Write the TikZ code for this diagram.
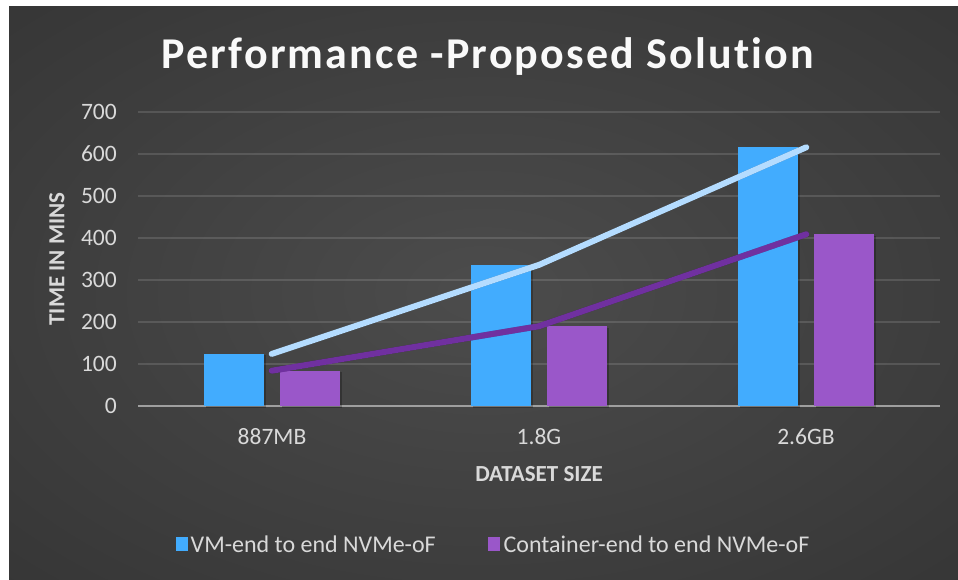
\documentclass[tikz,border=0pt]{standalone}
\usepackage{fontspec}
\setmainfont{Carlito}
\newfontfamily\titlefont[LetterSpace=5, Ligatures=NoCommon]{Carlito}
\usetikzlibrary{positioning}

\definecolor{vmblue}{HTML}{42ACFE}
\definecolor{ctpurple}{HTML}{9A57C9}
\definecolor{vmline}{HTML}{B4DCFF}
\definecolor{ctline}{HTML}{7030A0}
\definecolor{txtgray}{HTML}{D9D9D9}
\definecolor{bgin}{HTML}{4C4C4C}
\definecolor{bgout}{HTML}{202020}

\pgfdeclareradialshading{chartbg}{\pgfpoint{0bp}{0bp}}{color(0bp)=(bgin); color(72bp)=(bgout)}

\tikzset{
  titletext/.style={anchor=base, inner sep=0pt, font=\titlefont\bfseries\fontsize{44}{44}\selectfont},
  ticklabel/.style={anchor=east, inner sep=0pt, text=txtgray, font=\fontsize{23.5}{23.5}\selectfont},
  catlabel/.style={inner sep=0pt, text=txtgray, font=\fontsize{23.5}{23.5}\selectfont},
  axistitle/.style={inner sep=0pt, text=txtgray, font=\bfseries\fontsize{23}{23}\selectfont},
  legendkey/.style={inner sep=0pt, minimum width=12.5pt, minimum height=13.5pt},
  legendtext/.style={inner sep=0pt, text=txtgray, font=\fontsize{24}{24}\selectfont},
  gridline/.style={white, opacity=0.13, line width=1.5pt},
  axisline/.style={gray!75, line width=2pt},
  barshadow/.style={black, opacity=0.25, xshift=2pt, yshift=-1.5pt},
  trend/.style={line width=6pt, line cap=round, line join=round},
}

\begin{document}
\begin{tikzpicture}[x=1pt, y=-1pt]
  \useasboundingbox (0,0) rectangle (958,579);
  % backdrop
  \fill[white] (0,0) rectangle (958,579);
  \shade[shading=chartbg] (9,6) rectangle (958,579);

  % title
  \node[titletext, text=white!95!gray] (title) at (488,68) {Performance -Proposed Solution};

  % value axis
  \foreach \v in {0,100,...,700}
    \node[ticklabel] (tick\v) at (117,{406-0.42*\v}) {\v};
  \node[axistitle, rotate=90] (ytitle) at (57,259) {TIME IN MINS};

  % plot area, one unit up = one minute
  \begin{scope}[shift={(138,406)}, y=0.42pt]
    \foreach \v in {100,200,...,700}
      \draw[gridline] (0,\v) -- (802,\v);
    \draw[axisline] (0,0) -- (802,0);

    % bars
    \foreach \c/\vm/\ct [count=\i] in {133.7/124/84, 401/336/190, 668.3/616/409} {
      \fill[barshadow] (\c-68,0) rectangle (\c-8,\vm);
      \fill[barshadow] (\c+8,0) rectangle (\c+68,\ct);
      \fill[vmblue] (\c-68,0) rectangle (\c-8,\vm);
      \fill[ctpurple] (\c+8,0) rectangle (\c+68,\ct);
      \coordinate (vm\i) at (\c,\vm);
      \coordinate (ct\i) at (\c,\ct);
    }

    % trend lines
    \draw[trend, black, opacity=0.3, xshift=1.5pt, yshift=-2pt] (vm1) -- (vm2) -- (vm3);
    \draw[trend, black, opacity=0.3, xshift=1.5pt, yshift=-2pt] (ct1) -- (ct2) -- (ct3);
    \draw[trend, vmline] (vm1) -- (vm2) -- (vm3);
    \draw[trend, ctline] (ct1) -- (ct2) -- (ct3);
  \end{scope}

  % category axis
  \node[catlabel] (cat1) at (272,437) {887MB};
  \node[catlabel] (cat2) at (539,437) {1.8G};
  \node[catlabel] (cat3) at (806,437) {2.6GB};
  \node[axistitle] (xtitle) at (539,474) {DATASET SIZE};

  % legend
  \node[legendkey, fill=vmblue] (keyvm) at (182,544) {};
  \node[legendtext, right=2pt of keyvm] (textvm) {VM-end to end NVMe-oF};
  \node[legendkey, fill=ctpurple] (keyct) at (494,544) {};
  \node[legendtext, right=3pt of keyct] (textct) {Container-end to end NVMe-oF};
\end{tikzpicture}
\end{document}
